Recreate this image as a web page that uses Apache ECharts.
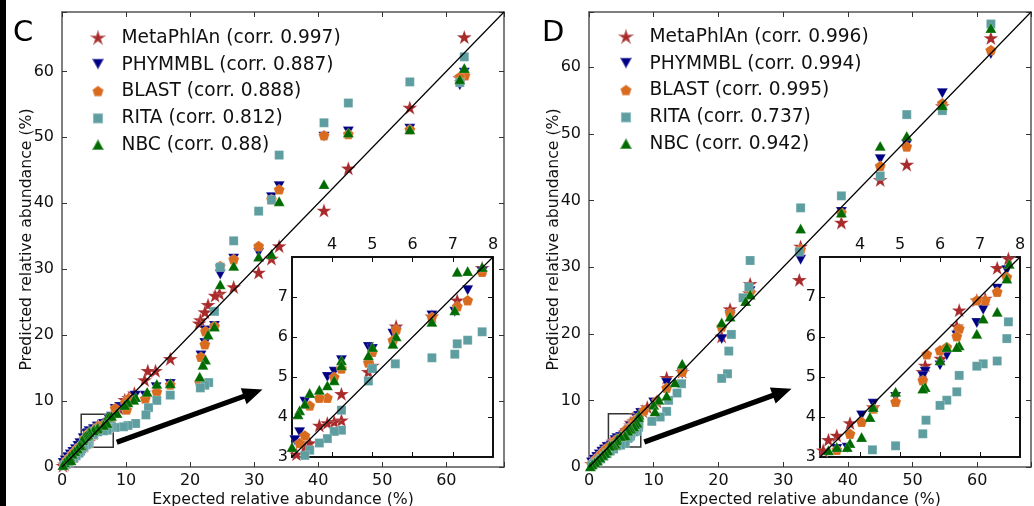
<!DOCTYPE html>
<html><head><meta charset="utf-8">
<script src="https://cdn.jsdelivr.net/npm/echarts@6/dist/echarts.min.js"></script>
<style>html,body{margin:0;padding:0;background:#fff}#c{width:1034px;height:506px}</style>
</head><body><div id="c"></div>
<script>
// ---------------- data ----------------
const methods = ['MetaPhlAn','PHYMMBL','BLAST','RITA','NBC'];
const corrC = ['0.997','0.887','0.888','0.812','0.88'];
const corrD = ['0.996','0.994','0.995','0.737','0.942'];
const mainTicks = [0,10,20,30,40,50,60];
const insetTicks = [3,4,5,6,7,8];
const axisMaxC = 69;
const axisMaxD = 68.3;
const zoomBox = [3, 8];
const arrowFromTo = [[8.55, 3.75], [31.3, 11.75]];

// Panel C  [expected, predicted]
const C_MetaPhlAn = [[62.8,65.2],[62.1,59.0],[54.3,54.5],[44.7,45.3],[40.9,38.9],[33.9,33.5],[32.7,31.6],[30.7,29.5],[26.8,27.3],[24.6,26.3],[23.9,26.0],[22.8,24.6],[22.3,23.5],[21.6,22.3],[21.4,21.8],[16.9,16.4],[14.6,14.6],[13.4,14.6],[12.9,13.2],[11.3,11.2],[10.4,10.5],[9.8,10.2],[8.9,8.9],
  [7.73,7.73],[7.11,6.92],[6.48,6.52],[5.59,6.27],[5.0,5.29],[4.9,5.13],[4.23,4.58],[4.23,3.92],[4.05,3.88],[3.88,3.85],[3.68,3.79],[3.44,3.35],[3.32,3.25],[3.11,3.07],
  [2.7,2.6],[2.3,2.4],[1.9,1.8],[1.5,1.6],[1.1,1.0],[0.7,0.8],[0.4,0.4],[0.15,0.2]];
const C_PHYMMBL = [[62.8,59.8],[62.1,57.9],[54.3,51.3],[44.7,50.9],[40.9,50.1],[33.9,42.6],[32.7,40.9],[30.7,32.5],[26.8,31.6],[24.7,29.2],[23.8,21.4],[22.4,20.7],[22.3,18.8],[21.7,16.9],[16.9,12.6],[14.7,12.1],[13.0,10.8],[11.4,10.8],[10.3,9.9],[9.0,9.1],[8.3,8.8],
  [7.73,7.63],[7.37,7.17],[7.05,6.63],[6.48,6.54],[5.51,6.08],[5.59,6.14],[4.9,5.75],[5.0,5.7],[4.23,5.42],[4.05,5.13],[3.88,5.0],[3.32,4.38],[3.19,3.62],[3.07,3.42],
  [2.8,3.6],[2.5,3.2],[2.1,2.7],[1.7,2.3],[1.3,1.9],[0.9,1.5],[0.5,1.0],[0.2,0.6]];
const C_BLAST = [[62.9,59.4],[62.1,59.2],[54.3,51.2],[44.7,50.5],[40.9,50.3],[33.9,42.1],[32.7,40.6],[30.7,33.5],[26.8,31.5],[24.7,30.5],[23.8,21.4],[22.4,20.6],[22.3,18.6],[21.7,16.7],[21.5,12.8],[16.9,12.5],[14.8,11.4],[13.0,10.4],[10.4,10.4],[9.9,9.8],[10.1,8.7],[8.3,8.9],
  [7.73,7.63],[7.37,6.92],[7.11,6.77],[6.48,6.5],[5.59,6.19],[5.51,5.92],[5.0,5.63],[4.9,5.36],[4.23,5.21],[4.05,5.0],[3.88,4.48],[3.68,4.48],[3.44,4.29],[3.32,3.54],[3.19,3.35],
  [2.8,3.2],[2.4,2.8],[2.0,2.4],[1.6,2.0],[1.2,1.5],[0.8,1.1],[0.4,0.6]];
const C_RITA = [[62.8,62.2],[62.1,58.3],[54.3,58.4],[44.7,55.2],[40.9,52.2],[33.9,47.3],[32.7,40.5],[30.7,38.8],[26.8,34.3],[24.7,30.3],[23.8,23.6],[22.9,12.8],[22.3,12.4],[21.6,12.0],[16.9,10.9],[14.8,10.1],[13.5,9.0],[13.1,7.9],[11.5,6.6],[10.3,6.3],[9.6,6.1],[8.3,6.0],
  [7.73,6.13],[7.37,5.92],[7.11,5.83],[7.05,5.57],[6.48,5.48],[5.57,5.33],[5.0,5.21],[4.9,4.9],[4.23,4.17],[4.23,3.67],[4.05,3.64],[3.88,3.46],[3.68,3.35],[3.44,3.17],[3.32,3.04],
  [2.9,2.4],[2.6,2.1],[2.2,1.7],[1.8,1.3],[1.4,1.0],[1.0,0.7],[0.6,0.4],[0.3,0.2]];
const C_NBC = [[62.8,60.5],[62.1,58.8],[54.3,51.2],[44.7,50.7],[40.9,42.9],[33.9,40.3],[32.7,32.3],[30.7,31.9],[26.8,30.5],[24.7,27.7],[23.8,21.3],[22.8,20.1],[22.4,16.3],[22.0,15.5],[21.5,13.7],[16.9,12.7],[14.8,12.6],[13.3,11.4],[11.5,10.6],[11.2,10.2],[10.3,9.8],[9.8,9.4],[8.6,8.2],
  [7.11,7.63],[7.37,7.65],[7.73,7.75],[7.05,6.67],[6.48,6.38],[5.59,6.02],[5.51,5.83],[5.0,5.75],[4.9,5.54],[4.23,5.42],[4.23,5.29],[4.05,4.92],[3.88,4.79],[3.68,4.68],[3.44,4.6],[3.32,4.33],[3.19,4.17],[3.15,4.07],[3.0,3.25],
  [2.8,3.3],[2.4,2.8],[2.0,2.4],[1.6,2.0],[1.2,1.6],[0.8,1.1],[0.4,0.7],[1.4,1.0],[0.15,0.3]];

// Panel D
const D_MetaPhlAn = [[62.1,64.4],[54.6,54.2],[49.1,45.4],[45.0,43.1],[39.0,36.7],[32.7,33.1],[32.5,28.1],[24.9,27.5],[24.8,26.1],[21.8,23.7],[20.5,19.6],[14.4,14.3],[12.0,13.4],[10.5,9.85],[9.0,9.0],[8.3,8.4],
  [7.71,7.96],[7.43,7.73],[6.92,6.92],[7.13,6.96],[6.48,6.67],[6.42,6.27],[5.63,5.29],[6.02,5.46],[5.57,5.13],[4.33,4.25],[3.75,3.85],[3.42,3.54],[3.21,3.43],[3.08,3.17],
  [2.8,3.1],[2.4,2.6],[2.0,2.2],[1.6,1.7],[1.2,1.3],[0.8,0.9],[0.4,0.5]];
const D_PHYMMBL = [[62.1,62.0],[54.6,56.1],[49.1,48.4],[45.0,46.2],[39.0,38.3],[32.7,31.1],[24.9,26.4],[21.8,22.8],[20.5,19.2],[14.4,14.0],[12.0,12.6],[10.0,9.7],[8.0,8.1],
  [7.67,7.67],[7.43,7.21],[7.08,6.68],[6.92,6.35],[6.42,6.04],[6.17,5.54],[5.63,5.13],[6.0,5.29],[5.57,5.02],[4.89,4.5],[4.33,4.33],[4.04,4.04],[3.68,3.23],[3.42,3.2],
  [2.8,3.0],[2.4,2.6],[2.0,2.3],[1.6,1.9],[1.2,1.5],[0.8,1.1],[0.4,0.7]];
const D_BLAST = [[62.1,62.6],[54.6,54.6],[49.1,48.1],[45.0,45.2],[39.0,38.2],[32.7,32.7],[24.9,26.3],[21.8,23.1],[20.5,21.1],[14.4,14.3],[12.0,11.9],[10.5,10.0],[8.5,8.5],
  [7.67,7.5],[7.43,7.13],[7.13,6.92],[6.92,6.92],[6.48,6.21],[6.42,6.02],[6.17,5.75],[6.0,5.67],[5.67,5.57],[5.57,4.92],[4.89,4.38],[4.33,4.21],[4.04,3.88],[3.75,3.58],[3.42,3.18],
  [2.8,2.9],[2.4,2.5],[2.0,2.1],[1.6,1.7],[1.2,1.3],[0.8,0.9],[0.4,0.5]];
const D_RITA = [[62.1,66.5],[54.6,53.5],[49.1,52.9],[45.0,43.7],[39.0,40.7],[32.7,38.9],[32.5,32.3],[24.9,31.0],[24.7,27.0],[23.8,25.4],[22.0,19.9],[21.6,17.4],[21.4,14.0],[20.5,13.3],[14.3,12.5],[13.6,11.1],[12.3,10.0],[12.0,8.35],[11.0,7.5],[9.7,6.85],
  [7.71,6.38],[7.67,5.96],[7.43,5.4],[7.08,5.33],[6.92,5.27],[6.48,5.04],[6.42,4.63],[6.17,4.42],[6.0,4.29],[5.65,3.92],[5.57,3.58],[4.89,3.28],[4.31,3.18],
  [3.8,2.7],[3.3,2.4],[2.8,2.0],[2.3,1.6],[1.8,1.2],[1.3,0.8],[0.8,0.5],[0.4,0.2]];
const D_NBC = [[62.1,65.9],[54.6,54.3],[49.1,49.7],[45.0,48.2],[39.0,38.2],[32.7,35.8],[24.9,25.9],[24.2,24.9],[21.8,22.6],[20.5,21.7],[14.4,15.5],[13.3,12.7],[12.0,10.7],[10.8,10.1],[10.0,9.35],[10.2,8.35],
  [7.73,7.83],[7.67,7.46],[7.43,6.63],[7.08,6.46],[6.92,6.08],[6.48,5.79],[6.42,5.75],[6.17,5.75],[6.0,5.42],[5.63,4.75],[5.57,4.71],[4.89,4.63],[4.33,4.25],[4.25,4.0],[4.04,3.5],[3.75,3.35],[3.68,3.25],[3.42,3.25],[3.21,3.17],
  [2.9,2.5],[2.5,2.1],[2.1,1.8],[1.7,1.4],[1.3,1.0],[0.9,0.7],[0.5,0.4],[0.2,0.1]];

const dataC = [C_MetaPhlAn, C_PHYMMBL, C_BLAST, C_RITA, C_NBC];
const dataD = [D_MetaPhlAn, D_PHYMMBL, D_BLAST, D_RITA, D_NBC];

// ---------------- styles ----------------
const FONT = 'DejaVu Sans';
const colors = ['#a82a2a', '#000085', '#d96b1e', '#5f9ea0', '#006b00'];
const STAR = 'M50,0 L62,35 L99,35 L69,57 L80,93 L50,71 L20,93 L31,57 L1,35 L38,35 Z';
const DTRI = 'M0,0 L100,0 L50,90 Z';
const PENT = 'M50,0 L97.6,34.5 L79.4,90.5 L20.6,90.5 L2.4,34.5 Z';
const SQ = 'M0,0 L100,0 L100,100 L0,100 Z';
const UTRI = 'M50,0 L100,90 L0,90 Z';
const shapes = [STAR, DTRI, PENT, SQ, UTRI];
const sizes = [15, 11, 11, 9, 11];
function padIcon(p, frac) {
  const s = frac, o = 50 * (1 - s);
  const scaled = p.replace(/(-?\d+\.?\d*),(-?\d+\.?\d*)/g, (m, a, b) => (o + s * a).toFixed(2) + ',' + (o + s * b).toFixed(2));
  return 'path://M0,0 M100,100 ' + scaled;
}
const legendFrac = [1, 0.72, 0.72, 0.6, 0.72];

const tickFmt10 = v => (Math.abs(v % 10) < 1e-6 ? String(v) : '');
const TF = 16;

function mainXAxes(gi, max) {
  const common = { type: 'value', gridIndex: gi, min: 0, max: max, interval: 10, splitLine: { show: false },
    axisLine: { show: true, onZero: false, lineStyle: { color: '#555', width: 1.5 } },
    axisTick: { show: true, inside: true, length: 5, lineStyle: { color: '#333', width: 1 } } };
  return [
    Object.assign({}, common, { position: 'bottom',
      axisLabel: { show: true, margin: 6, fontSize: TF, color: '#111', fontFamily: FONT, formatter: tickFmt10 },
      name: 'Expected relative abundance (%)', nameLocation: 'middle', nameGap: 25, nameMoveOverlap: false,
      nameTextStyle: { fontSize: 15.7, color: '#111', fontFamily: FONT } }),
    Object.assign({}, common, { position: 'top', axisLabel: { show: false } })
  ];
}
function mainYAxes(gi, max) {
  const common = { type: 'value', gridIndex: gi, min: 0, max: max, interval: 10, splitLine: { show: false },
    axisLine: { show: true, onZero: false, lineStyle: { color: '#555', width: 1.5 } },
    axisTick: { show: true, inside: true, length: 5, lineStyle: { color: '#333', width: 1 } } };
  return [
    Object.assign({}, common, { position: 'left',
      axisLabel: { show: true, margin: 8, fontSize: TF, color: '#111', fontFamily: FONT, formatter: tickFmt10 },
      name: 'Predicted relative abundance (%)', nameLocation: 'middle', nameGap: 27, nameMoveOverlap: false,
      nameTextStyle: { fontSize: 15.7, color: '#111', fontFamily: FONT } }),
    Object.assign({}, common, { position: 'right', axisLabel: { show: false } })
  ];
}
function insetAxes(gi, isX) {
  const common = { type: 'value', gridIndex: gi, min: insetTicks[0], max: insetTicks[insetTicks.length - 1], interval: 1, splitLine: { show: false },
    axisLine: { show: true, onZero: false, lineStyle: { color: '#111', width: 2 } },
    axisTick: { show: true, inside: true, length: 5, lineStyle: { color: '#111', width: 1 } } };
  if (isX) return [
    Object.assign({}, common, { position: 'top', axisLabel: { show: true, margin: 4, fontSize: TF, color: '#111', fontFamily: FONT, showMinLabel: false } }),
    Object.assign({}, common, { position: 'bottom', axisLabel: { show: false } })
  ];
  return [
    Object.assign({}, common, { position: 'left', axisLabel: { show: true, margin: 4, fontSize: TF, color: '#111', fontFamily: FONT, showMaxLabel: false } }),
    Object.assign({}, common, { position: 'right', axisLabel: { show: false } })
  ];
}

const namesC = methods.map((m, i) => m + ' (corr. ' + corrC[i] + ')');
const namesD = methods.map((m, i) => m + ' (corr. ' + corrD[i] + ')');

function scatterSet(names, data, axisIdx) {
  return names.map((n, i) => ({
    type: 'scatter', name: n, data: data[i], xAxisIndex: axisIdx, yAxisIndex: axisIdx,
    symbol: 'path://' + shapes[i], symbolSize: sizes[i], symbolKeepAspect: true,
    itemStyle: { color: colors[i], opacity: 1, borderColor: 'rgba(255,255,255,0.35)', borderWidth: 0.6 },
    clip: true, silent: true, z: 2
  }));
}
function diag(axisIdx, lo, hi, withBox) {
  const s = { type: 'line', data: [[lo, lo], [hi, hi]], xAxisIndex: axisIdx, yAxisIndex: axisIdx,
    symbol: 'none', lineStyle: { color: '#000', width: 1.2 }, silent: true, z: 3, clip: true };
  if (withBox) s.markArea = { silent: true, itemStyle: { color: 'rgba(0,0,0,0)', borderColor: '#333', borderWidth: 1.5 },
    data: [[{ coord: [zoomBox[0], zoomBox[0]] }, { coord: [zoomBox[1], zoomBox[1]] }]] };
  return s;
}
function legendFor(names, left, top) {
  return { orient: 'vertical', left: left, top: top, padding: 0, itemWidth: 17, itemHeight: 17, itemGap: 4.8,
    selectedMode: false,
    textStyle: { fontSize: 18.6, color: '#111', fontFamily: FONT, lineHeight: 22, padding: [0, 0, 0, 10] },
    data: names.map((n, i) => ({ name: n, icon: padIcon(shapes[i], legendFrac[i]) })) };
}

const chart = echarts.init(document.getElementById('c'), null, { renderer: 'canvas' });
const gridBase = { outerBoundsMode: 'none', containLabel: false };
const option = {
  animation: false,
  backgroundColor: '#fff',
  grid: [
    Object.assign({ left: 62, top: 12, width: 442, height: 455 }, gridBase),
    Object.assign({ left: 292, top: 257, width: 201, height: 200, show: true, backgroundColor: '#fff', borderWidth: 0 }, gridBase),
    Object.assign({ left: 589, top: 12, width: 442, height: 455 }, gridBase),
    Object.assign({ left: 820, top: 257, width: 200, height: 200, show: true, backgroundColor: '#fff', borderWidth: 0 }, gridBase)
  ],
  xAxis: [].concat(mainXAxes(0, axisMaxC), insetAxes(1, true), mainXAxes(2, axisMaxD), insetAxes(3, true)),
  yAxis: [].concat(mainYAxes(0, axisMaxC), insetAxes(1, false), mainYAxes(2, axisMaxD), insetAxes(3, false)),
  legend: [legendFor(namesC, 88.5, 27), legendFor(namesD, 616.5, 26)],
  series: [].concat(
    scatterSet(namesC, dataC, 0), [diag(0, 0, axisMaxC, true)],
    scatterSet(namesC, dataC, 2), [diag(2, insetTicks[0], insetTicks[5], false)],
    scatterSet(namesD, dataD, 4), [diag(4, 0, axisMaxD, true)],
    scatterSet(namesD, dataD, 6), [diag(6, insetTicks[0], insetTicks[5], false)]
  )
};
chart.setOption(option);

function arrowShape(p0, p1) {
  const dx = p1[0] - p0[0], dy = p1[1] - p0[1];
  const L = Math.sqrt(dx * dx + dy * dy), ux = dx / L, uy = dy / L, nx = -uy, ny = ux;
  const hl = 20, hw = 8.5, sw = 2.6;
  const bx = p1[0] - ux * hl, by = p1[1] - uy * hl;
  return [
    [p0[0] + nx * sw, p0[1] + ny * sw], [bx + nx * sw, by + ny * sw], [bx + nx * hw, by + ny * hw],
    p1, [bx - nx * hw, by - ny * hw], [bx - nx * sw, by - ny * sw], [p0[0] - nx * sw, p0[1] - ny * sw]
  ];
}
const gfx = [
  { type: 'rect', shape: { x: 0, y: 0, width: 6, height: 506 }, style: { fill: '#000' }, silent: true },
  { type: 'text', left: 13, top: 19, style: { text: 'C', fontSize: 29, fontFamily: FONT, fill: '#000' }, silent: true },
  { type: 'text', left: 542, top: 19, style: { text: 'D', fontSize: 29, fontFamily: FONT, fill: '#000' }, silent: true }
];
[0, 2].forEach(gi => {
  const a = chart.convertToPixel({ gridIndex: gi }, arrowFromTo[0]);
  const b = chart.convertToPixel({ gridIndex: gi }, arrowFromTo[1]);
  gfx.push({ type: 'polygon', shape: { points: arrowShape(a, b) }, style: { fill: '#000' }, silent: true, z: 10 });
});
chart.setOption({ graphic: gfx });
</script></body></html>
